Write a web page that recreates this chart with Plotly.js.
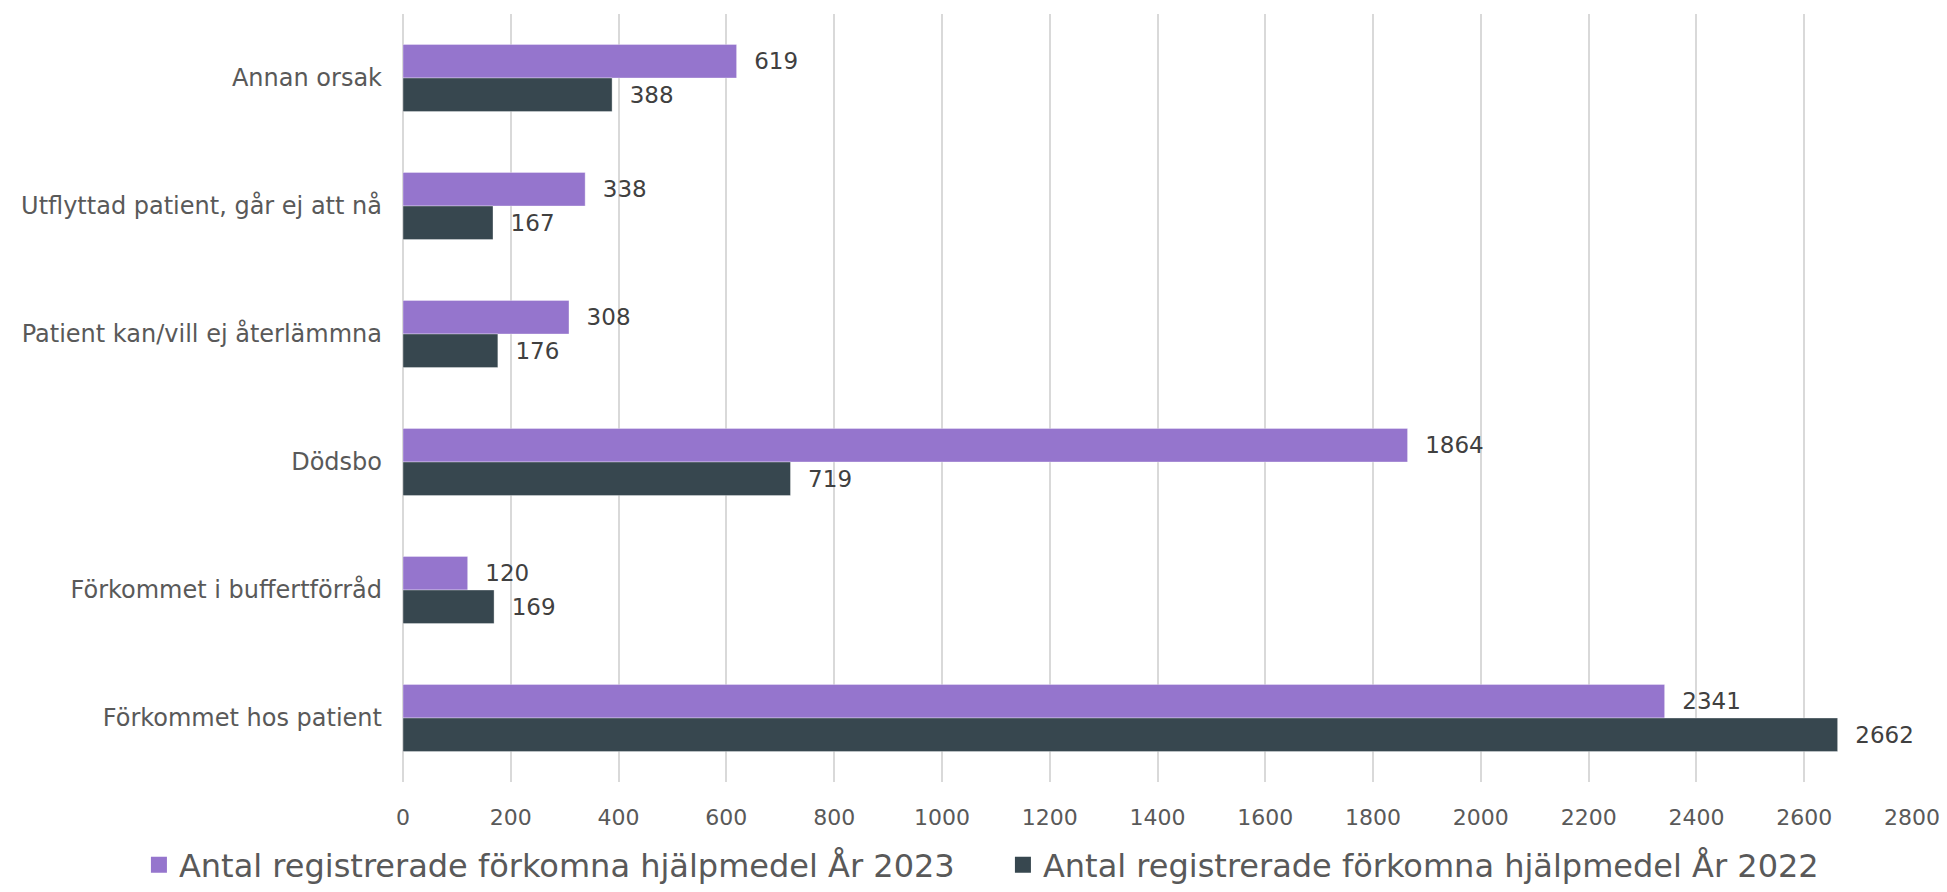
<!DOCTYPE html>
<html>
<head>
<meta charset="utf-8">
<script src="https://cdn.plot.ly/plotly-3.0.1.min.js"></script>
<style>html,body{margin:0;padding:0;background:#fff;}#chart{width:1947px;height:892px;}</style>
</head>
<body>
<div id="chart"></div>
<script>
const categories = [
  "Annan orsak",
  "Utflyttad patient, går ej att nå",
  "Patient kan/vill ej återlämmna",
  "Dödsbo",
  "Förkommet i buffertförråd",
  "Förkommet hos patient"
];
const values2023 = [619, 338, 308, 1864, 120, 2341];
const values2022 = [388, 167, 176, 719, 169, 2662];
const seriesNames = [
  "Antal registrerade förkomna hjälpmedel År 2023",
  "Antal registrerade förkomna hjälpmedel År 2022"
];
const seriesColors = ["#9575CD", "#37474F"];
const tickValues = [0,200,400,600,800,1000,1200,1400,1600,1800,2000,2200,2400,2600,2800];

const FONT = "DejaVu Sans, Verdana, sans-serif";

function barTrace(vals, i) {
  return {
    type: "bar", orientation: "h", name: seriesNames[i],
    y: categories, x: vals, showlegend: false, legendgroup: "g" + i,
    marker: {color: seriesColors[i], line: {color: "rgba(255,255,255,0.35)", width: 1}},
    texttemplate: "  %{x}", textposition: "outside", cliponaxis: false,
    textfont: {family: FONT, size: 23, color: "#404040"},
    hoverinfo: "skip"
  };
}
function legendTrace(i) {
  return {
    type: "scatter", mode: "markers", name: seriesNames[i], legendgroup: "g" + i,
    x: [null], y: [null], showlegend: true,
    marker: {symbol: "square", size: 16, color: seriesColors[i]},
    hoverinfo: "skip"
  };
}

const traces = [
  barTrace(values2023, 0),
  barTrace(values2022, 1),
  legendTrace(0),
  legendTrace(1)
];

const layout = {
  width: 1947, height: 892,
  margin: {l: 403, r: 35, t: 14, b: 110, autoexpand: false},
  paper_bgcolor: "#fff", plot_bgcolor: "#fff",
  font: {family: FONT, color: "#595959", size: 22},
  barmode: "group", bargap: 0.475, bargroupgap: 0,
  showlegend: true,
  legend: {
    orientation: "h", x: -0.175, xanchor: "left", y: -0.108, yanchor: "middle",
    entrywidth: 819, entrywidthmode: "pixels",
    font: {family: FONT, size: 32, color: "#595959"},
    itemclick: false, itemdoubleclick: false
  },
  xaxis: {
    range: [0, 2800], tickvals: tickValues, ticktext: tickValues.map(String),
    showgrid: true, gridcolor: "#d9d9d9", gridwidth: 2,
    zeroline: true, zerolinecolor: "#d9d9d9", zerolinewidth: 2,
    showline: false, ticks: "", fixedrange: true,
    ticklabelstandoff: 20,
    tickfont: {family: FONT, size: 22, color: "#595959"}
  },
  yaxis: {
    type: "category", autorange: "reversed",
    showgrid: false, zeroline: false, showline: false, ticks: "",
    ticklabelstandoff: 20,
    tickfont: {family: FONT, size: 24, color: "#595959"},
    fixedrange: true
  }
};

Plotly.newPlot("chart", traces, layout, {displayModeBar: false, staticPlot: true});
</script>
</body>
</html>
